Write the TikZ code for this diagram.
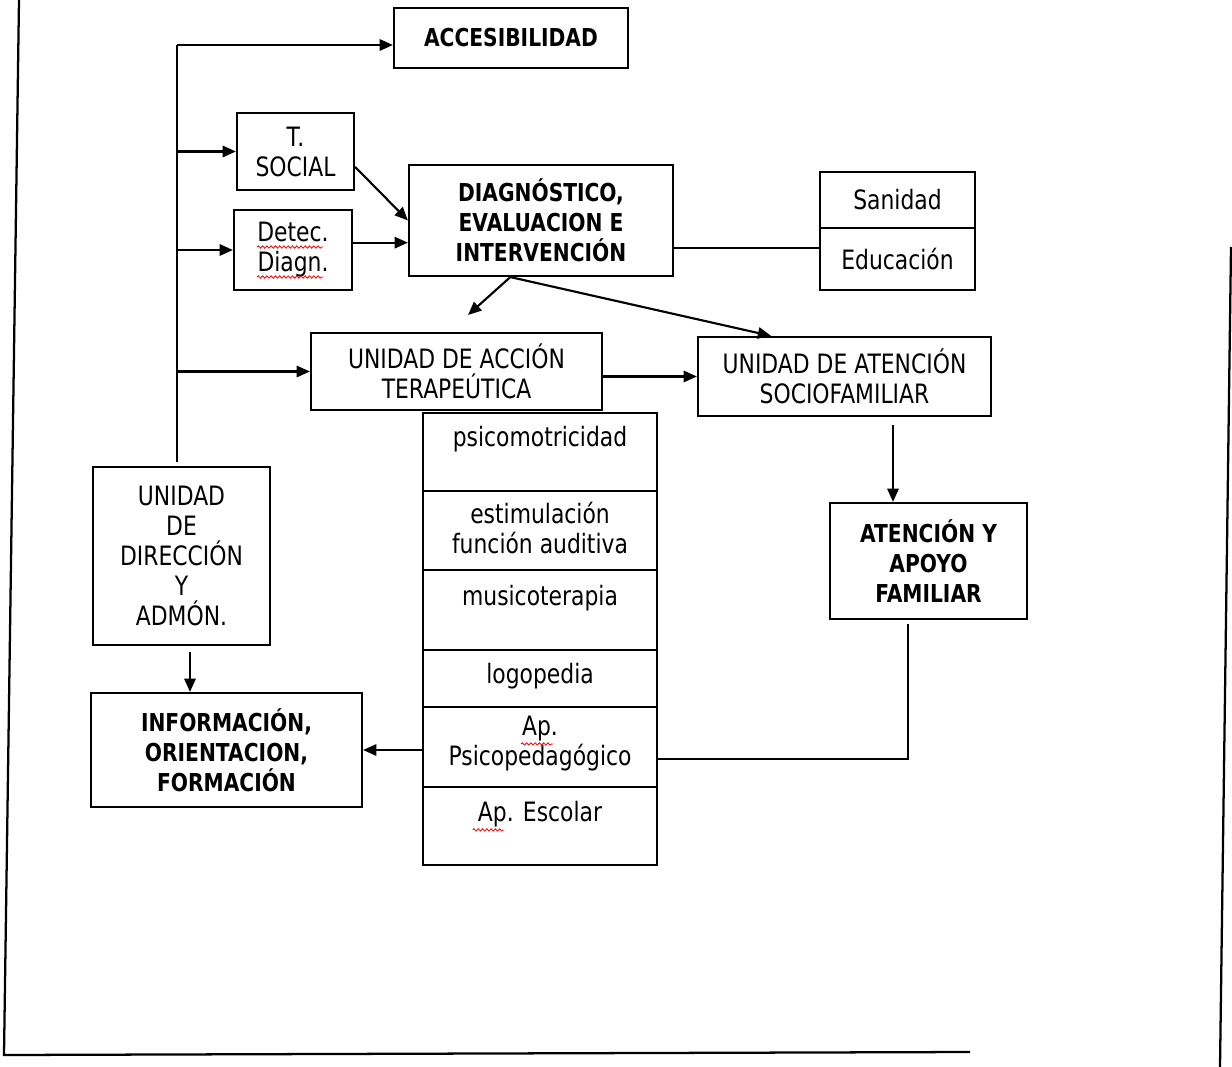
\documentclass[tikz,border=0pt]{standalone}
\usepackage{fontspec}
\setmainfont[FakeStretch=0.82]{DejaVu Sans}
\usetikzlibrary{arrows.meta,decorations.pathmorphing,calc}
\begin{document}
\begin{tikzpicture}[x=0.75pt,y=-0.75pt,
  sz/.style 2 args={minimum width=#1*0.75pt, minimum height=#2*0.75pt},
  box/.style={draw, line width=1.6pt, inner sep=0pt, align=center,
              font=\fontsize{20}{22.5}\selectfont},
  bbox/.style={box, font=\fontsize{18.5}{22.5}\selectfont\bfseries},
  rowbox/.style={draw, line width=1.6pt, inner sep=0pt},
  rowtext/.style={anchor=north, align=center, inner sep=0pt,
              font=\fontsize{20}{22.5}\selectfont},
  ln/.style={line width=1.6pt},
  arr/.style={line width=1.6pt, -{Triangle[length=10pt,width=8.5pt]}},
  frame/.style={line width=1.7pt},
  squig/.style={red, line width=0.6pt, decorate,
              decoration={snake, amplitude=0.9pt, segment length=3.2pt}}]
\useasboundingbox (0,0) rectangle (1232,1067);

% scanned page frame
\draw[frame] (19,0) -- (4,1055) -- (970,1052);
\draw[frame] (1231,247) -- (1220,1067);

% boxes
\node[bbox, sz={234}{60}] (acc) at (511,38) {ACCESIBILIDAD};
\node[box, sz={117}{77}] (tsoc) at (295.5,151.5) {T.\\SOCIAL};
\node[box, sz={118}{80}] (detec) at (293,250) {Detec.\\Diagn.};
\node[bbox, sz={264}{111}] (diag) at (541,220.5) {DIAGNÓSTICO,\\EVALUACION E\\INTERVENCIÓN};
\node[box, sz={155}{56}] (san) at (897.5,200) {Sanidad};
\node[box, sz={155}{62}] (edu) at (897.5,259) {Educación};
\node[box, sz={291}{77}] (uat) at (456.5,371.5) {UNIDAD DE ACCIÓN\\TERAPEÚTICA};
\node[box, sz={293}{79}] (uasf) at (844.5,376.5) {UNIDAD DE ATENCIÓN\\SOCIOFAMILIAR};
\node[box, sz={177}{178}] (dir) at (181.5,556) {UNIDAD\\DE\\DIRECCIÓN\\Y\\ADMÓN.};
\node[bbox, sz={271}{114}] (info) at (226.5,750) {INFORMACIÓN,\\ORIENTACION,\\FORMACIÓN};
\node[bbox, sz={197}{116}] (aaf) at (928.5,561) {ATENCIÓN Y\\APOYO\\FAMILIAR};

% column of therapies
\node[rowbox, sz={234}{78}] (r1) at (540,452) {};
\node[rowbox, sz={234}{79}] (r2) at (540,530.5) {};
\node[rowbox, sz={234}{80}] (r3) at (540,610) {};
\node[rowbox, sz={234}{57}] (r4) at (540,678.5) {};
\node[rowbox, sz={234}{80}] (apsico) at (540,747) {};
\node[rowbox, sz={234}{78}] (r6) at (540,826) {};
\node[rowtext] (t1) at ($(r1.north)+(0,14)$) {psicomotricidad};
\node[rowtext] (t2) at ($(r2.north)+(0,12)$) {estimulación\\función auditiva};
\node[rowtext] (t3) at ($(r3.north)+(0,16)$) {musicoterapia};
\node[rowtext] (t4) at ($(r4.north)+(0,14)$) {logopedia};
\node[rowtext] (t5) at ($(apsico.north)+(0,10)$) {Ap.\\Psicopedagógico};
\node[rowtext] (t6) at ($(r6.north)+(0,15)$) {Ap. Escolar};

% spell-check underlines
\draw[squig] ($(detec.center)+(-36,-3)$) -- ($(detec.center)+(30,-3)$);
\draw[squig] ($(detec.center)+(-36,27)$) -- ($(detec.center)+(30,27)$);
\draw[squig] ($(t5.north)+(-19,28)$) -- ($(t5.north)+(13,28)$);
\draw[squig] ($(t6.north west)+(-5,29)$) -- ($(t6.north west)+(26,29)$);

% trunk on the left
\coordinate (ttop) at (177,45);
\coordinate (tbot) at (177,462);
\draw[ln] (tbot) -- (ttop);
\draw[arr] (ttop) -- (ttop -| acc.west);
\draw[arr] (tsoc.west -| ttop) -- (tsoc.west);
\draw[arr] (detec.west -| ttop) -- (detec.west);
\draw[arr] (uat.west -| ttop) -- (uat.west);

% into diagnosis
\draw[arr] ([yshift=-11.5pt]tsoc.east) -- (diag.west);
\draw[arr] ([yshift=5.5pt]detec.east) -- ([yshift=5.5pt]detec.east -| diag.west);
\draw[ln] ([yshift=-20.5pt]diag.east) -- ([yshift=-20.5pt]diag.east -| edu.west);

% out of diagnosis
\coordinate (ds) at ([xshift=-23pt]diag.south);
\coordinate (dsend) at (468,315);
\draw[arr] (ds) -- (dsend);
\draw[arr] (ds) -- ([xshift=-55pt]uasf.north);

% units
\draw[arr] (uat.east |- uasf.west) -- (uasf.west);
\coordinate (c1) at (893,425);
\draw[arr] (c1) -- (c1 |- aaf.north);
\coordinate (c2) at (908,624);
\draw[ln] (c2) |- ([yshift=-9pt]apsico.east);
\draw[arr] (info.east -| apsico.west) -- (info.east);
\coordinate (c3) at (190,652);
\draw[arr] (c3) -- (c3 |- info.north);
\end{tikzpicture}
\end{document}
